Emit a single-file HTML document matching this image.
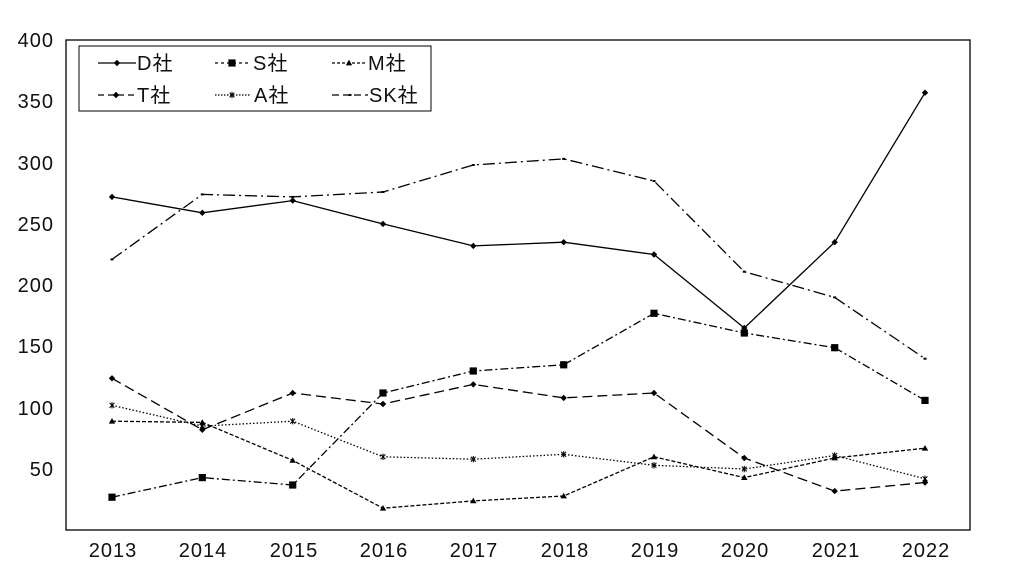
<!DOCTYPE html>
<html><head><meta charset="utf-8"><style>body{margin:0;background:#fff}svg{display:block}text{font-family:"Liberation Sans","Noto Sans CJK JP",sans-serif;font-size:20px;letter-spacing:1px;fill:#111}</style></head><body>
<svg width="1024" height="578" viewBox="0 0 1024 578">
<defs>
<marker id="dia" viewBox="-5 -5 10 10" markerWidth="8" markerHeight="8" markerUnits="userSpaceOnUse"><path d="M0-4L4 0 0 4-4 0z" fill="#000"/></marker>
<marker id="sq" viewBox="-5 -5 10 10" markerWidth="9" markerHeight="9" markerUnits="userSpaceOnUse"><rect x="-4" y="-4" width="8" height="8" fill="#000"/></marker>
<marker id="tri" viewBox="-5 -5 10 10" markerWidth="8" markerHeight="8" markerUnits="userSpaceOnUse"><path d="M0-4L4 3-4 3z" fill="#000"/></marker>
<marker id="ast" viewBox="-5 -5 10 10" markerWidth="8" markerHeight="8" markerUnits="userSpaceOnUse"><path d="M-3-3L3 3M3-3L-3 3M0-4V4" stroke="#000" stroke-width="1.3"/></marker>
<marker id="dot" viewBox="-5 -5 10 10" markerWidth="5" markerHeight="5" markerUnits="userSpaceOnUse"><rect x="-3" y="-2" width="6" height="4" fill="#000"/></marker>
</defs>
<rect x="66" y="40" width="904" height="490" fill="none" stroke="#000" stroke-width="1.3"/>
<g text-anchor="end">
<text x="54" y="47">400</text><text x="54" y="108">350</text><text x="54" y="170">300</text><text x="54" y="231">250</text><text x="54" y="292">200</text><text x="54" y="353">150</text><text x="54" y="415">100</text><text x="54" y="476">50</text>
</g>
<g text-anchor="middle">
<text x="113" y="557">2013</text><text x="203" y="557">2014</text><text x="294" y="557">2015</text><text x="384" y="557">2016</text><text x="474" y="557">2017</text><text x="565" y="557">2018</text><text x="655" y="557">2019</text><text x="745" y="557">2020</text><text x="836" y="557">2021</text><text x="926" y="557">2022</text>
</g>
<g fill="none" stroke="#000" stroke-width="1.3">
<polyline marker-start="url(#dia)" marker-mid="url(#dia)" marker-end="url(#dia)" points="112,196.9 202.3,212.8 292.7,200.6 383,223.9 473.3,245.9 563.7,242.2 654,254.5 744.3,328 834.7,242.2 925,92.7"/>
<polyline stroke-dasharray="8,3,2,3" marker-start="url(#sq)" marker-mid="url(#sq)" marker-end="url(#sq)" points="112,497.2 202.3,477.6 292.7,485 383,393 473.3,371 563.7,364.8 654,313.3 744.3,333 834.7,347.7 925,400.4"/>
<polyline stroke-dasharray="4,2" marker-start="url(#tri)" marker-mid="url(#tri)" marker-end="url(#tri)" points="112,421.2 202.3,422.4 292.7,460.4 383,508.2 473.3,500.9 563.7,496 654,456.8 744.3,477.6 834.7,458 925,448.2"/>
<polyline stroke-dasharray="10,5" marker-start="url(#dia)" marker-mid="url(#dia)" marker-end="url(#dia)" points="112,378.3 202.3,429.8 292.7,393 383,404 473.3,384.4 563.7,397.9 654,393 744.3,458 834.7,491.1 925,482.5"/>
<polyline stroke-dasharray="1.5,2" marker-start="url(#ast)" marker-mid="url(#ast)" marker-end="url(#ast)" points="112,405.3 202.3,426.1 292.7,421.2 383,456.8 473.3,459.2 563.7,454.3 654,465.3 744.3,469 834.7,455.5 925,478.8"/>
<polyline stroke-dasharray="12,4,2,4" marker-start="url(#dot)" marker-mid="url(#dot)" marker-end="url(#dot)" points="112,259.4 202.3,194.4 292.7,196.9 383,192 473.3,165 563.7,158.9 654,181 744.3,271.7 834.7,297.4 925,358.7"/>
</g>
<rect x="79" y="46" width="352" height="65" fill="#fff" stroke="#000" stroke-width="1"/>
<g fill="none" stroke="#000" stroke-width="1.3">
<polyline marker-mid="url(#dia)" points="98,63 117,63 136,63"/>
<polyline stroke-dasharray="3,3" marker-mid="url(#sq)" points="215,63 232,63 249,63"/>
<polyline stroke-dasharray="3,2" marker-mid="url(#tri)" points="332,63 349,63 366,63"/>
<polyline stroke-dasharray="6,4" marker-mid="url(#dia)" points="98,95 116,95 136,95"/>
<polyline stroke-dasharray="1.5,1.5" marker-mid="url(#ast)" points="215,95 232,95 250,95"/>
<polyline stroke-dasharray="7,4" marker-mid="url(#dot)" points="332,95 350,95 368,95"/>
</g>
<g style="font-size:18px;letter-spacing:0">
<text x="137" y="70">D社</text><text x="253" y="70">S社</text><text x="368" y="70">M社</text>
<text x="137" y="102">T社</text><text x="254" y="102">A社</text><text x="369" y="102">SK社</text>
</g>
</svg>
</body></html>
